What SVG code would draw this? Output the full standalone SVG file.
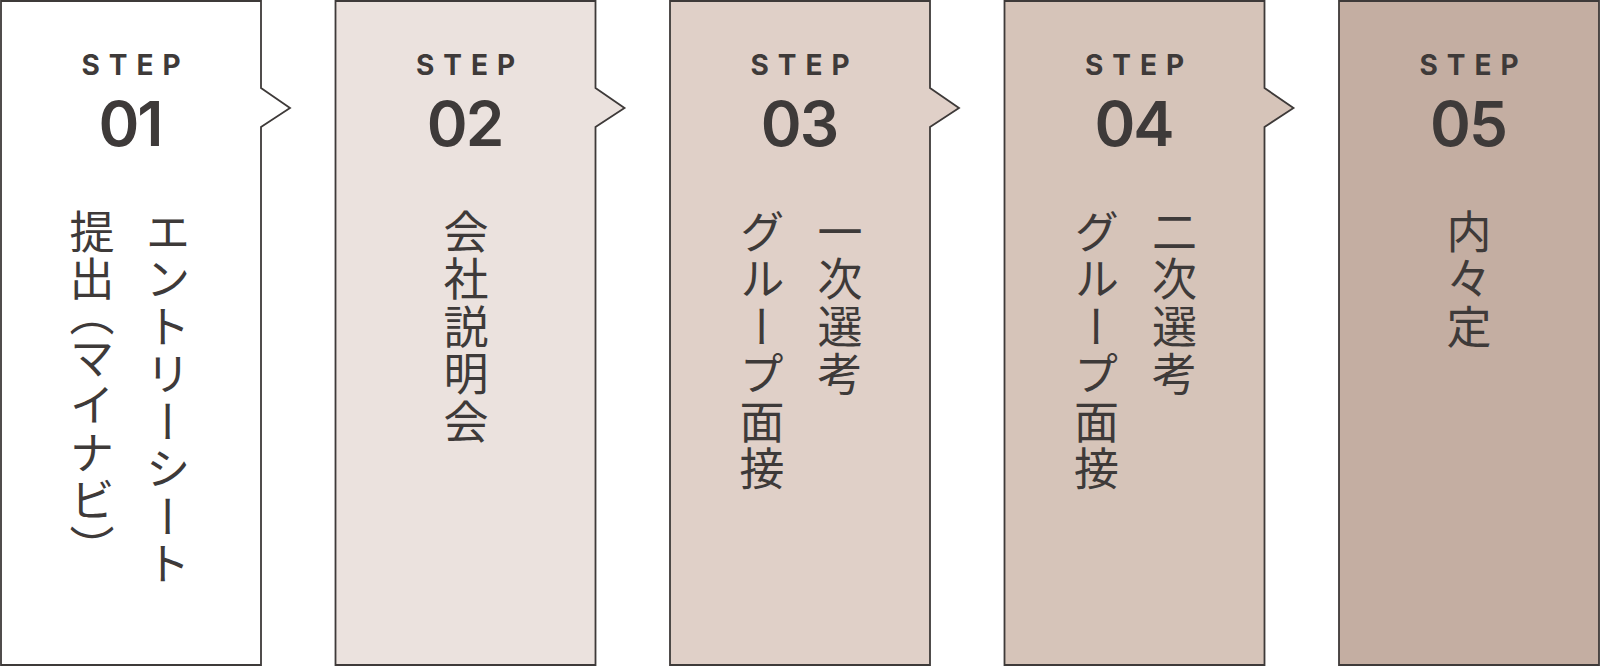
<svg xmlns="http://www.w3.org/2000/svg" width="1600" height="667" viewBox="0 0 1600 667">
<style>
.box{stroke:#3e3a39;stroke-width:1.8;stroke-linejoin:miter}
.step{font-family:Inter,"Noto Sans",sans-serif;font-weight:700;font-size:28px;letter-spacing:9px;fill:#3e3a39;text-anchor:middle}
.num{font-family:Inter,"Noto Sans",sans-serif;font-weight:600;font-size:62px;fill:#3e3a39;text-anchor:middle;letter-spacing:-2px}
.jp{font-family:"Noto Sans CJK JP","Noto Sans",sans-serif;font-weight:400;font-size:45px;letter-spacing:2.5px;fill:#3e3a39;writing-mode:vertical-rl}
</style>
<rect width="1600" height="667" fill="#ffffff"/>
<g id="step1">
<path class="box" fill="#ffffff" d="M1,1 H261 V88 L290,108 L261,127 V665 H1 Z"/>
<text class="step" x="135.5" y="75">STEP</text>
<text class="num" x="130" y="146">01</text>
<text class="jp" x="168" y="209">エントリーシート</text>
<text class="jp" x="92" y="209">提出<tspan dy="-13">（</tspan><tspan dy="-4">マイナビ）</tspan></text>
</g>
<g id="step2">
<path class="box" fill="#ebe2de" d="M335.5,1 H595.5 V88 L624.5,108 L595.5,127 V665 H335.5 Z"/>
<text class="step" x="470" y="75">STEP</text>
<text class="num" x="464.5" y="146">02</text>
<text class="jp" x="466" y="209">会社説明会</text>
</g>
<g id="step3">
<path class="box" fill="#e0d0c8" d="M670,1 H930 V88 L959,108 L930,127 V665 H670 Z"/>
<text class="step" x="804.5" y="75">STEP</text>
<text class="num" x="799" y="146">03</text>
<text class="jp" x="840" y="209">一次選考</text>
<text class="jp" x="762" y="209">グループ面接</text>
</g>
<g id="step4">
<path class="box" fill="#d6c4b9" d="M1004.5,1 H1264.5 V88 L1293.5,108 L1264.5,127 V665 H1004.5 Z"/>
<text class="step" x="1139" y="75">STEP</text>
<text class="num" x="1133.5" y="146">04</text>
<text class="jp" x="1174.5" y="209">二次選考</text>
<text class="jp" x="1096.5" y="209">グループ面接</text>
</g>
<g id="step5">
<path class="box" fill="#c4aea2" d="M1339,1 H1599 V665 H1339 Z"/>
<text class="step" x="1473.5" y="75">STEP</text>
<text class="num" x="1468" y="146">05</text>
<text class="jp" x="1469" y="209">内々定</text>
</g>
<g id="connectors"></g>
</svg>
